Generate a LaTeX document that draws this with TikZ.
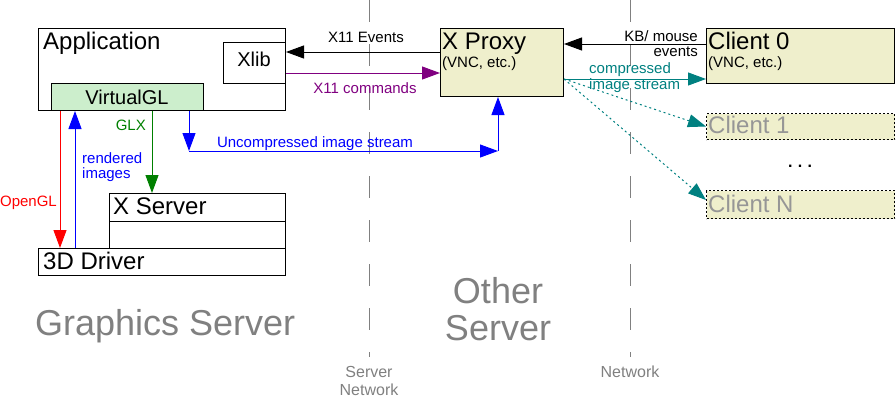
\documentclass[tikz,border=0pt]{standalone}
\usepackage{fontspec}
\setmainfont{Liberation Sans}
\usetikzlibrary{arrows.meta}
\definecolor{proxybg}{RGB}{239,239,204}
\definecolor{vglbg}{RGB}{204,238,204}
\definecolor{glxgreen}{RGB}{0,128,0}
\definecolor{cmdpurple}{RGB}{128,0,128}
\definecolor{streamteal}{RGB}{0,128,128}
\definecolor{labelgray}{RGB}{128,128,128}
\definecolor{clientgray}{RGB}{150,150,150}
\newcommand{\bigbox}{\fontsize{24}{28}\selectfont}
\newcommand{\smallbox}{\fontsize{20}{24}\selectfont}
\newcommand{\notesize}{\fontsize{15}{18}\selectfont}
\newcommand{\hostsize}{\fontsize{36}{40}\selectfont}
\newcommand{\netsize}{\fontsize{16}{18}\selectfont}
\begin{document}
\begin{tikzpicture}[x=1pt,y=-1pt]

    \tikzset{
      box/.style={
        draw,
        line width=1pt,
        inner sep=0pt,
        anchor=north west,
      },
      ghost/.style={
        box,
        fill=proxybg,
        dash pattern=on 2pt off 2pt,
      },
      txt/.style={inner sep=0pt, anchor=base west},
      mid/.style={inner sep=0pt, anchor=base},
      conn/.style={line width=1pt, -{Triangle[length=18pt,width=13pt]}},
      sep/.style={labelgray, line width=1pt, dash pattern=on 22pt off 22pt},
    }
    \useasboundingbox (0,0) rectangle (896,407);

	\draw[sep] (369,0)--(369,357);
	\draw[sep] (630,0)--(630,357);

	\node[box, minimum width=247pt, minimum height=82pt] (app) at (38,28) {};
	\node[txt] (apptxt) at (43,49) {\bigbox Application};
	\node[box, fill=white, minimum width=62pt, minimum height=41pt] (xlib) at (223,42) {};
	\node[mid] (xlibtxt) at (254,66) {\smallbox Xlib};
	\node[box, fill=vglbg, minimum width=152pt, minimum height=27pt] (vgl) at (51,83) {};
	\node[mid] (vgltxt) at (127,104) {\smallbox VirtualGL};
	\node[box, minimum width=176pt, minimum height=28pt] (xsrv) at (109,193) {};
	\node[box, minimum width=176pt, minimum height=27pt] (xsrvbase) at (109,221) {};
	\node[txt] (xsrvtxt) at (113,214) {\bigbox X Server};
	\node[box, fill=white, minimum width=247pt, minimum height=27pt] (drv) at (38,248) {};
	\node[txt] (drvtxt) at (43,269) {\bigbox 3D Driver};

	\node[box, fill=proxybg, minimum width=123pt, minimum height=68pt] (proxy) at (440,28) {};
	\node[txt] (proxytxt) at (442,49) {\bigbox X Proxy};
	\node[txt] (proxysub) at (442,67) {\notesize (VNC, etc.)};

	\node[box, fill=proxybg, minimum width=188pt, minimum height=55pt] (cl0) at (706,28) {};
	\node[txt] (cl0txt) at (708,49) {\bigbox Client 0};
	\node[txt] (cl0sub) at (708,67) {\notesize (VNC, etc.)};
	\node[ghost, minimum width=188pt, minimum height=26pt] (cl1) at (706,113) {};
	\node[txt, clientgray] (cl1txt) at (708,133) {\bigbox Client 1};
	\node[ghost, minimum width=188pt, minimum height=28pt] (clN) at (706,190) {};
	\node[txt, clientgray] (clNtxt) at (708,212) {\bigbox Client N};
	\node[mid] (dots) at (800,167) {\netsize\bfseries .\,\,.\,\,.};

	\draw[conn, red] ([xshift=9pt]vgl.south west) -- ([xshift=22pt]drv.north west);
	\draw[conn, blue] ([xshift=37pt]drv.north west) -- ([xshift=24pt]vgl.south west);
	\draw[conn, glxgreen] ([xshift=101pt]vgl.south west) -- ([xshift=43pt]xsrv.north west);
	\coordinate (uc1) at (189,151);
	\coordinate (uc2) at (498,151);
	\draw[conn, blue] ([xshift=138pt]vgl.south west) -- (uc1);
	\draw[conn, blue] (uc1) -- (uc2);
	\draw[conn, blue] (uc2) -- ([xshift=58pt]proxy.south west);

	\draw[conn] ([yshift=-24pt]proxy.north west) -- ([yshift=-10pt]xlib.north east);
	\draw[conn, cmdpurple] ([yshift=-31pt]xlib.north east) -- ([yshift=-45pt]proxy.north west);
	\draw[conn] ([yshift=-16pt]cl0.north west) -- ([yshift=-16pt]proxy.north east);
	\draw[conn, streamteal] ([yshift=-51pt]proxy.north east) -- ([yshift=-51pt]cl0.north west);
	\draw[conn, streamteal, dash pattern=on 2pt off 3pt] ([yshift=-51pt]proxy.north east) -- (cl1.west);
	\draw[conn, streamteal, dash pattern=on 2pt off 3pt] ([yshift=-51pt]proxy.north east) -- ([yshift=-10pt]clN.north west);

	\node[mid, red, anchor=base east] (ogl) at (57,206) {\notesize OpenGL};
	\node[txt, blue] (rend1) at (82,163) {\notesize rendered};
	\node[txt, blue] (rend2) at (82,178) {\notesize images};
	\node[mid, glxgreen, anchor=base east] (glx) at (146,130) {\notesize GLX};
	\node[mid, blue] (uncomp) at (315,147) {\notesize Uncompressed image stream};
	\node[mid] (x11ev) at (366,42) {\notesize X11 Events};
	\node[mid, cmdpurple] (x11cmd) at (365,93) {\notesize X11 commands};
	\node[mid, anchor=base east] (kb1) at (698,41) {\notesize KB/ mouse};
	\node[mid, anchor=base east] (kb2) at (698,56) {\notesize events};
	\node[txt, streamteal] (comp1) at (589,73) {\notesize compressed};
	\node[txt, streamteal] (comp2) at (589,89) {\notesize image stream};

	\node[txt, labelgray] (gfx) at (35,335) {\hostsize Graphics Server};
	\node[mid, labelgray] (oth1) at (498,303) {\hostsize Other};
	\node[mid, labelgray] (oth2) at (498,340) {\hostsize Server};
	\node[mid, labelgray] (sn1) at (369,377) {\netsize Server};
	\node[mid, labelgray] (sn2) at (369,395) {\netsize Network};
	\node[mid, labelgray] (net) at (630,377) {\netsize Network};

\end{tikzpicture}
\end{document}
